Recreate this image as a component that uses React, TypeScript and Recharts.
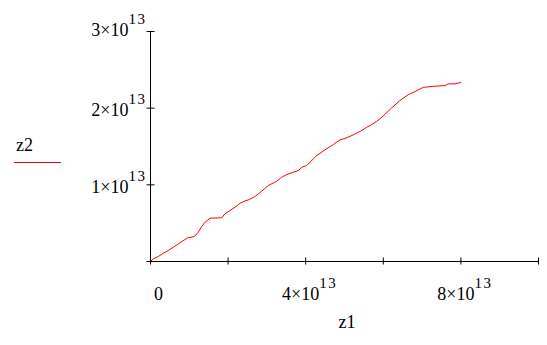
import React from "react";
import { LineChart, Line, XAxis, YAxis } from "recharts";

const z1Values = [
  0, 0.072e13, 0.2e13, 0.33e13, 0.459e13, 0.588e13, 0.76e13, 0.889e13, 0.959e13, 1.129e13,
  1.232e13, 1.32e13, 1.405e13, 1.534e13, 1.835e13, 1.92e13, 2.049e13, 2.178e13, 2.307e13,
  2.436e13, 2.521e13, 2.69e13, 2.866e13, 3.036e13, 3.253e13, 3.381e13, 3.51e13, 3.68e13,
  3.809e13, 3.897e13, 4.026e13, 4.11e13, 4.284e13, 4.497e13, 4.711e13, 4.884e13, 5.013e13,
  5.227e13, 5.443e13, 5.572e13, 5.701e13, 5.83e13, 5.959e13, 6.216e13, 6.43e13, 6.644e13,
  6.817e13, 7.031e13, 7.289e13, 7.59e13, 7.675e13, 7.848e13, 8.003e13,
];
const z2Values = [
  0, 0.035e13, 0.065e13, 0.108e13, 0.143e13, 0.186e13, 0.244e13, 0.287e13, 0.309e13, 0.326e13,
  0.382e13, 0.456e13, 0.512e13, 0.565e13, 0.57e13, 0.622e13, 0.665e13, 0.708e13, 0.76e13,
  0.789e13, 0.804e13, 0.847e13, 0.917e13, 0.991e13, 1.047e13, 1.099e13, 1.134e13, 1.164e13,
  1.186e13, 1.229e13, 1.252e13, 1.295e13, 1.382e13, 1.456e13, 1.525e13, 1.587e13, 1.604e13,
  1.652e13, 1.708e13, 1.751e13, 1.786e13, 1.829e13, 1.881e13, 2.004e13, 2.099e13, 2.177e13,
  2.216e13, 2.272e13, 2.285e13, 2.295e13, 2.317e13, 2.317e13, 2.338e13,
];

const xTicks = [0, 2e13, 4e13, 6e13, 8e13, 1e14];
const xTickLabels = ["0", "", "4×10^13", "", "8×10^13", ""];
const yTicks = [0, 1e13, 2e13, 3e13];
const yTickLabels = ["", "1×10^13", "2×10^13", "3×10^13"];
const xTitle = "z1";
const yTitle = "z2";

const data = z1Values.map((v, i) => ({ z1: v, z2: z2Values[i] }));

const FONT = "'Liberation Serif', 'Times New Roman', serif";
const RED = "#ff0000";

function PowLabel({ x, y, text, anchor }: { x: number; y: number; text: string; anchor: string }) {
  const [base, sup] = text.split("^");
  return (
    <text x={x} y={y} textAnchor={anchor as any} fontFamily={FONT} fontSize={18} fill="#000">
      {base}
      {sup ? (
        <tspan fontSize={15} dy={-12} letterSpacing={1.5}>
          {sup}
        </tspan>
      ) : null}
    </text>
  );
}

function YTick(props: any) {
  const { x, y, index } = props;
  const label = yTickLabels[index] || "";
  const isTop = index === yTicks.length - 1;
  return (
    <g>
      <line x1={x - 4} x2={x + 4} y1={y} y2={y} stroke="#000" strokeWidth={1} />
      {label ? <PowLabel x={x - 4} y={y + (isTop ? 4 : 8)} text={label} anchor="end" /> : null}
    </g>
  );
}

function XTick(props: any) {
  const { x, y, index } = props;
  const label = xTickLabels[index] || "";
  return (
    <g>
      <line x1={x} x2={x} y1={y - 4} y2={y + 3} stroke="#000" strokeWidth={1} />
      {label ? (
        label === "0" ? (
          <PowLabel x={x + 3.5} y={y + 38} text={label} anchor="start" />
        ) : (
          <PowLabel x={x + 4} y={y + 38} text={label} anchor="middle" />
        )
      ) : null}
    </g>
  );
}

export default function App() {
  return (
    <div style={{ position: "absolute", left: 0, top: 0, width: 547, height: 345, background: "#fff" }}>
      <LineChart
        width={547}
        height={345}
        data={data}
        margin={{ top: 31.5, right: 8.5, bottom: 82.5, left: 149.5 }}
      >
        <XAxis
          dataKey="z1"
          type="number"
          domain={[0, 1e14]}
          ticks={xTicks}
          interval={0}
          height={1}
          tickSize={0}
          tickMargin={0}
          tickLine={false}
          axisLine={{ stroke: "#000", strokeWidth: 1 }}
          tick={<XTick />}
          allowDataOverflow
        />
        <YAxis
          dataKey="z2"
          type="number"
          domain={[0, 3e13]}
          ticks={yTicks}
          interval={0}
          width={1}
          tickSize={0}
          tickMargin={0}
          tickLine={false}
          axisLine={{ stroke: "#000", strokeWidth: 1 }}
          tick={<YTick />}
          allowDataOverflow
        />
        <Line
          type="linear"
          dataKey="z2"
          stroke={RED}
          strokeWidth={1}
          dot={false}
          isAnimationActive={false}
        />
      </LineChart>
      <svg
        width={547}
        height={345}
        style={{ position: "absolute", left: 0, top: 0, pointerEvents: "none" }}
      >
        <text x={16} y={150.5} fontFamily={FONT} fontSize={18} fill="#000">
          {yTitle}
        </text>
        <line x1={14} x2={61} y1={162.5} y2={162.5} stroke={RED} strokeWidth={1} />
        <text x={347} y={328} textAnchor="middle" fontFamily={FONT} fontSize={18} fill="#000">
          {xTitle}
        </text>
      </svg>
    </div>
  );
}
